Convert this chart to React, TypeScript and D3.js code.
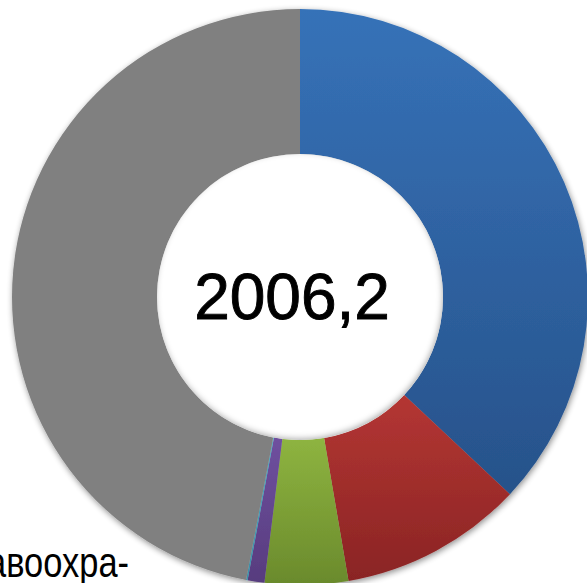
import React from "react";
import * as d3 from "d3";

const categories = ["A", "B", "C", "D", "E", "F"];
const values = [742.3, 206.8, 93.6, 18.9, 1.7, 943.0];
const totalLabel = "2006,2";
const sideLabel = "здравоохра-";
const colorTop = ["#3672B8", "#B43633", "#8EB440", "#6F509F", "#4BACC6", "#808080"];
const colorBottom = ["#27528A", "#8A2424", "#6A8A2C", "#573C7E", "#3A8FA8", "#808080"];

const W = 587;
const H = 583;

export default function App() {
  React.useEffect(() => {
    document.body.style.margin = "0";
  }, []);
  const cx = 300;
  const cy = 297;
  const outerR = 288;
  const innerR = 143;
  const pie = d3.pie<number>().sort(null).value((d) => d)(values);
  const arc = d3.arc<d3.PieArcDatum<number>>().innerRadius(innerR).outerRadius(outerR);
  return (
    <svg width={W} height={H} style={{ position: "absolute", left: 0, top: 0, background: "#fff" }}>
      <defs>
        {categories.map((c, i) => (
          <linearGradient key={c} id={`g${i}`} x1="0" y1="0" x2="0" y2="1">
            <stop offset="0" stopColor={colorTop[i]} />
            <stop offset="1" stopColor={colorBottom[i]} />
          </linearGradient>
        ))}
        <filter id="outerShadow" x="-10%" y="-10%" width="120%" height="120%">
          <feGaussianBlur in="SourceAlpha" stdDeviation="3" />
          <feOffset dx="1" dy="2" result="b" />
          <feComponentTransfer>
            <feFuncA type="linear" slope="0.45" />
          </feComponentTransfer>
          <feMerge>
            <feMergeNode />
            <feMergeNode in="SourceGraphic" />
          </feMerge>
        </filter>
        <filter id="innerShadow" x="-10%" y="-10%" width="120%" height="120%">
          <feGaussianBlur in="SourceAlpha" stdDeviation="3" />
        </filter>
      </defs>
      <g transform={`translate(${cx},${cy})`}>
        <g filter="url(#outerShadow)">
          {pie.map((p, i) => (
            <path key={categories[i]} d={arc(p) || ""} fill={`url(#g${i})`} />
          ))}
        </g>
        <circle r={innerR} fill="#fff" />
        <clipPath id="holeClip">
          <circle r={innerR} />
        </clipPath>
        <g clipPath="url(#holeClip)">
          <circle r={innerR + 6} cx={-1} cy={-2} fill="none" stroke="#000" strokeOpacity={0.35} strokeWidth={10} filter="url(#innerShadow)" />
        </g>
        <text
          x={-8}
          y={22}
          textAnchor="middle"
          fontFamily="'Liberation Sans', Arial, sans-serif"
          fontSize={64}
          fill="#000"
          stroke="#000"
          strokeWidth={0.9}
        >
          {totalLabel}
        </text>
      </g>
      <text
        transform="translate(129,577) scale(0.82,1)"
        textAnchor="end"
        fontFamily="'Liberation Sans', Arial, sans-serif"
        fontSize={42}
        fill="#000"
      >
        {sideLabel}
      </text>
    </svg>
  );
}
